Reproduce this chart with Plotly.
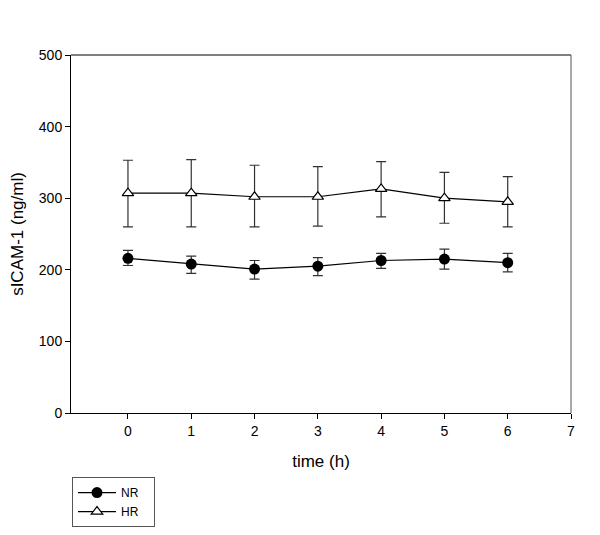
import plotly.graph_objects as go

time_h = [0, 1, 2, 3, 4, 5, 6]

nr_mean = [216, 208, 201, 205, 213, 215, 210]
nr_upper = [227, 219, 213, 217, 223, 229, 223]
nr_lower = [206, 195, 187, 192, 202, 201, 197]

hr_mean = [307, 307, 302, 302, 313, 300, 295]
hr_upper = [353, 354, 346, 344, 351, 336, 330]
hr_lower = [260, 260, 260, 261, 274, 265, 260]

x_ticks = [0, 1, 2, 3, 4, 5, 6, 7]
y_ticks = [0, 100, 200, 300, 400, 500]

FONT = "Liberation Sans, Arial, sans-serif"
PAD = "\u00a0" * 3


def err(mean, upper, lower, color):
    return dict(
        type="data",
        symmetric=False,
        array=[u - m for u, m in zip(upper, mean)],
        arrayminus=[m - l for m, l in zip(mean, lower)],
        color=color,
        thickness=1.2,
        width=5,
    )


fig = go.Figure()
fig.add_trace(go.Scatter(
    x=time_h, y=nr_mean, name="NR" + PAD, mode="lines+markers",
    line=dict(color="black", width=1.2),
    marker=dict(symbol="circle", size=11, color="black"),
    error_y=err(nr_mean, nr_upper, nr_lower, "#333333"),
))
fig.add_trace(go.Scatter(
    x=time_h, y=hr_mean, name="HR" + PAD, mode="lines+markers",
    line=dict(color="black", width=1.2),
    marker=dict(symbol="triangle-up", size=10, color="white",
                line=dict(color="black", width=1.2)),
    error_y=err(hr_mean, hr_upper, hr_lower, "#333333"),
))

fig.add_shape(type="line", xref="paper", yref="paper", x0=0, x1=1, y0=1, y1=1,
              line=dict(color="#808080", width=2))
fig.add_shape(type="line", xref="paper", yref="paper", x0=1, x1=1, y0=0, y1=1,
              line=dict(color="#555555", width=1))

fig.update_layout(
    width=600, height=535,
    margin=dict(l=63, r=37, t=47, b=130, autoexpand=False),
    paper_bgcolor="white", plot_bgcolor="white",
    font=dict(family=FONT, size=14, color="black"),
    showlegend=True,
    legend=dict(
        x=0.002, y=-0.179, xanchor="left", yanchor="top",
        bordercolor="#555555", borderwidth=1, bgcolor="white",
        font=dict(size=12), itemwidth=38, tracegroupgap=0,
    ),
    xaxis=dict(
        range=[-0.9, 7], tickmode="array", tickvals=x_ticks,
        ticks="outside", ticklen=5, tickcolor="black",
        showline=True, linecolor="black", linewidth=1,
        showgrid=False, zeroline=False, automargin=False,
        tickfont=dict(size=14),
        title=dict(text="time (h)", font=dict(size=17), standoff=17),
    ),
    yaxis=dict(
        range=[0, 500], tickmode="array", tickvals=y_ticks,
        ticks="outside", ticklen=5, tickcolor="black",
        showline=True, linecolor="black", linewidth=1,
        showgrid=False, zeroline=False, automargin=False,
        tickfont=dict(size=14),
        title=dict(text="sICAM-1 (ng/ml)", font=dict(size=17), standoff=15),
    ),
)

fig.write_html("out.html")
